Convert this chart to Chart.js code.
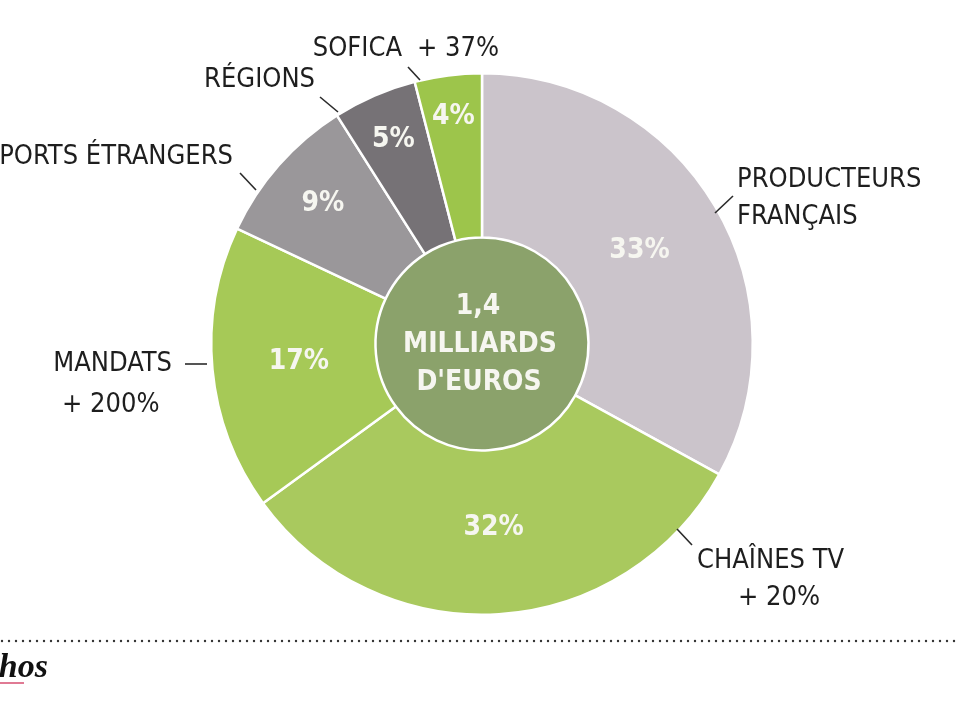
<!DOCTYPE html>
<html>
<head>
<meta charset="utf-8">
<script src="https://cdn.jsdelivr.net/npm/chart.js@4/dist/chart.umd.min.js"></script>
<style>
  html, body { margin: 0; padding: 0; background: #ffffff; }
  #wrap { width: 960px; height: 720px; position: relative; }
</style>
</head>
<body>
<div id="wrap"><canvas id="financePie" width="960" height="720"></canvas></div>
<script>
// parts of the 1,4 billion, clockwise from the top
const categories = ["PRODUCTEURS FRANÇAIS", "CHAÎNES TV", "MANDATS", "EXPORTS ÉTRANGERS", "RÉGIONS", "SOFICA"];
const shares = [33, 32, 17, 9, 5, 4];
const shareLabels = ["33%", "32%", "17%", "9%", "5%", "4%"];
const growthLabels = ["", "+ 20%", "+ 200%", "", "", "+ 37%"];
const centerLines = ["1,4", "MILLIARDS", "D'EUROS"];
const sliceColors = ["#cbc4cb", "#a9c95e", "#a6c957", "#9a979a", "#767276", "#9dc54b"];

const FONT = "'DejaVu Sans Condensed', 'DejaVu Sans', sans-serif";
const TEXT_COLOR = "#1e1e1e";

// where the callout texts sit and where their little leader lines go
const callouts = [
    { lines: ["PRODUCTEURS", "FRANÇAIS"], x: 737, y: 180, align: "left", lead: [715, 213, 733, 196] },
    { lines: [categories[1], growthLabels[1]], x: 697, y: 561, align: "left", lead: [677, 529, 692, 545], secondX: 738 },
    { lines: [categories[2]], x: 172, y: 364, align: "right", lead: [185, 364, 207, 364] },
    { lines: [growthLabels[2]], x: 62, y: 405, align: "left" },
    { lines: [categories[3]], x: 233, y: 157, align: "right", lead: [240, 173, 256, 190] },
    { lines: [categories[4]], x: 315, y: 80, align: "right", lead: [320, 97, 338, 112] },
    { lines: [categories[5]], x: 402, y: 49, align: "right", lead: [408, 67, 420, 80] },
    { lines: [growthLabels[5]], x: 417, y: 49, align: "left" },
];
const pctRadius = [183, 184, 184, 212, 223, 229];

let piePage = {};

piePage.labelsPlugin = {
    id: "pieLabels",
    afterDatasetsDraw: function (chart) {
        const ctx = chart.ctx;
        const arcs = chart.getDatasetMeta(0).data;
        ctx.save();

        // percentages inside the slices
        ctx.fillStyle = "#f6f6f0";
        ctx.font = "bold 28px " + FONT;
        ctx.textAlign = "center";
        ctx.textBaseline = "middle";
        arcs.forEach(function (arc, i) {
            let mid = (arc.startAngle + arc.endAngle) / 2;
            let r = pctRadius[i];
            ctx.fillText(shareLabels[i], arc.x + Math.cos(mid) * r, arc.y + Math.sin(mid) * r);
        });

        // total in the middle disk
        const cx = arcs[0].x;
        const cy = arcs[0].y;
        ctx.fillText(centerLines[0], cx - 4, cy - 37);
        ctx.fillText(centerLines[1], cx - 2, cy + 1);
        ctx.fillText(centerLines[2], cx - 3, cy + 39);

        // callouts outside
        ctx.fillStyle = TEXT_COLOR;
        ctx.strokeStyle = "#2a2a2a";
        ctx.lineWidth = 1.6;
        ctx.font = "27px " + FONT;
        callouts.forEach(function (c) {
            ctx.textAlign = c.align;
            c.lines.forEach(function (line, k) {
                let x = (k == 1 && c.secondX) ? c.secondX : c.x;
                ctx.fillText(line, x, c.y + k * 37);
            });
            if (c.lead) {
                ctx.beginPath();
                ctx.moveTo(c.lead[0], c.lead[1]);
                ctx.lineTo(c.lead[2], c.lead[3]);
                ctx.stroke();
            }
        });

        // Les Echos footer, cut by the left edge
        ctx.fillStyle = "#333333";
        for (let x = 2; x < 960; x += 7) {
            ctx.beginPath();
            ctx.arc(x, 641, 1.2, 0, Math.PI * 2);
            ctx.fill();
        }
        ctx.fillStyle = "#111111";
        ctx.font = "bold italic 34px 'Liberation Serif', 'DejaVu Serif', serif";
        ctx.textAlign = "right";
        ctx.textBaseline = "alphabetic";
        ctx.fillText("Les Échos", 48, 677);
        ctx.fillStyle = "#e07a94";
        ctx.fillRect(0, 682, 24, 2);

        ctx.restore();
    },
};

piePage.create = function () {
    piePage.canvas = document.getElementById("financePie");
    piePage.chart = new Chart(piePage.canvas, {
        type: "pie",
        data: {
            labels: categories,
            datasets: [
                {
                    data: shares,
                    backgroundColor: sliceColors,
                    borderColor: "#ffffff",
                    borderWidth: 2.5,
                    weight: 165,
                },
                {
                    data: [1],
                    backgroundColor: ["#8ba26b"],
                    borderWidth: 0,
                    weight: 107,
                },
            ],
        },
        options: {
            responsive: false,
            animation: { duration: 0 },
            events: [],
            layout: {
                padding: { left: 210, right: 206, top: 72, bottom: 104 },
            },
            plugins: {
                legend: { display: false },
                tooltip: { enabled: false },
            },
        },
        plugins: [piePage.labelsPlugin],
    });
};

piePage.create();
</script>
</body>
</html>
